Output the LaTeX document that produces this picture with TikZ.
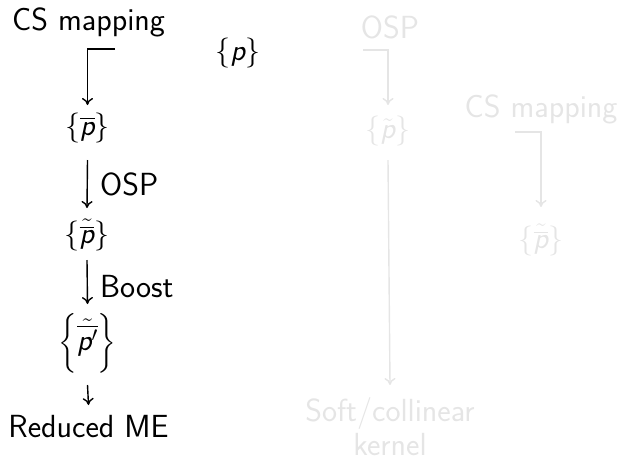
\RequirePackage{fix-cm}
\documentclass[tikz,border=0pt]{standalone}
\usepackage{exscale}
\usetikzlibrary{arrows.meta}
\newcommand{\pit}{\mbox{\itshape p}}
\tikzset{
  lab/.style={font=\sffamily\fontsize{32}{34}\selectfont, inner sep=0pt},
  mlab/.style={font=\sffamily\fontsize{30}{33}\selectfont, inner sep=0pt},
  faded/.style={text=black!10},
  fadedline/.style={draw=black!10},
  conn/.style={-{To[length=7pt,width=11pt]}, line width=1.4pt},
}
\begin{document}
\begin{tikzpicture}[x=1pt,y=-1pt]
\useasboundingbox (0,0) rectangle (623,461);

% main chain
\node[lab, anchor=base] (cs)    at (88.5,30)  {CS mapping};
\node[mlab]             (p)     at (238,53)   {$\{\pit\}$};
\node[mlab]             (pbar)  at (87.5,128) {$\{\overline{\pit}\}$};
\node[mlab]             (ptb)   at (87,235)   {$\{\tilde{\overline{\pit}}\}$};
\node[mlab]             (ptbp)  at (87.5,343) {$\left\{\vphantom{\rule[-20pt]{0pt}{55pt}}\tilde{\overline{\pit'}}\right\}$};
\node[lab, anchor=base] (red)   at (88.5,437) {Reduced ME};
\node[lab, anchor=base west] (osp)   at (100,195) {OSP};
\node[lab, anchor=base west] (boost) at (100,297) {Boost};

\coordinate (csout) at (115,49);
\draw[conn] (csout) -| ([yshift=23pt]pbar.center);
\draw[conn] ([yshift=-32pt]pbar.center) -- ([yshift=27pt]ptb.center);
\draw[conn] ([yshift=-25pt]ptb.center) -- ([yshift=39pt]ptbp.center);
\draw[conn] ([yshift=-42pt]ptbp.center) -- ([yshift=32pt]red.base);

% faded branch on the right
\node[lab, faded, anchor=base] (osp2)  at (390,38)  {OSP};
\node[mlab, faded]             (ptil)  at (388,131) {$\{\tilde{\pit}\}$};
\node[lab, faded, anchor=base, align=center] (kern) at (390,455) {Soft/collinear\\kernel};
\node[lab, faded, anchor=base] (cs2)   at (541,117) {CS mapping};
\node[mlab, faded]             (ptb2)  at (541,240) {$\{\tilde{\overline{\pit}}\}$};

\coordinate (ospout) at (363,50);
\coordinate (cs2out) at (515,132);
\draw[conn, fadedline] (ospout) -| ([yshift=26pt]ptil.center);
\draw[conn, fadedline] ([yshift=-29pt]ptil.center) -- ([yshift=70pt]kern.base);
\draw[conn, fadedline] (cs2out) -| ([yshift=33pt]ptb2.center);
\end{tikzpicture}
\end{document}
